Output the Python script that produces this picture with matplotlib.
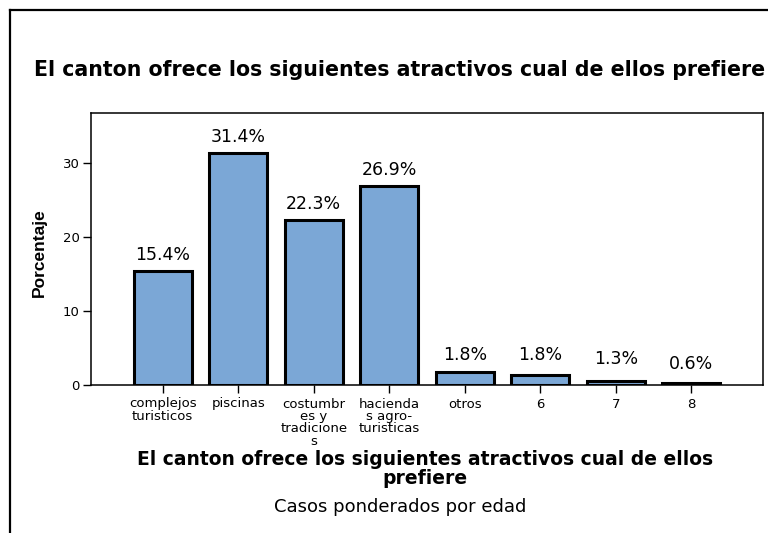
import matplotlib
matplotlib.use("Agg")
import matplotlib.pyplot as plt
from matplotlib.lines import Line2D

# ── Data ─────────────────────────────────────────────────────────────────────
categories = ["complejos\nturisticos", "piscinas", "costumbr\nes y\ntradicione\ns",
              "hacienda\ns agro-\nturisticas", "otros", "6", "7", "8"]
bar_heights = [15.4, 31.4, 22.3, 26.9, 1.8, 1.3, 0.6, 0.3]
label_values = [15.4, 31.4, 22.3, 26.9, 1.8, 1.8, 1.3, 0.6]
yticks = [0, 10, 20, 30]

TITLE = "El canton ofrece los siguientes atractivos cual de ellos prefiere"
XLABEL = "El canton ofrece los siguientes atractivos cual de ellos\nprefiere"
FOOT = "Casos ponderados por edad"

# ── Style ────────────────────────────────────────────────────────────────────
# reference text is wide (horizontally stretched Arial) -> DejaVu is closer
plt.rcParams["font.family"] = ["DejaVu Sans"]
BAR = (123/255, 167/255, 214/255)
W, H = 768, 533

fig = plt.figure(figsize=(W/100, H/100), dpi=100)
fig.patch.set_facecolor("white")

# outer frame (left + top edges, rest cut off like the reference)
fig.add_artist(Line2D([10/W, 10/W], [0, 1 - 10/H], transform=fig.transFigure,
                      color="black", linewidth=1.6))
fig.add_artist(Line2D([10/W, 1], [1 - 10/H, 1 - 10/H], transform=fig.transFigure,
                      color="black", linewidth=1.6))

ax = fig.add_axes([91/W, 1 - 385/H, 672/W, 272/H])
x = list(range(len(categories)))
ax.bar(x, bar_heights, width=0.77, color=BAR, edgecolor="black", linewidth=2.2, zorder=2)

for xi, v in zip(x, label_values):
    ax.text(xi, v + 1.0, f"{v:.1f}%", ha="center", va="bottom", fontsize=12.5)

ax.set_xlim(-0.95, len(categories) - 0.05)
ax.set_ylim(0, 36.8)
ax.set_yticks(yticks)
ax.set_xticks(x)
ax.set_xticklabels(categories, fontsize=9.5, linespacing=0.95)
ax.tick_params(axis="y", labelsize=9.5, length=6, width=1, pad=2)
ax.tick_params(axis="x", length=6, width=1, pad=3)
for s in ax.spines.values():
    s.set_linewidth(1.1)

ax.set_ylabel("Porcentaje", fontsize=12.5, fontweight="bold",
              family=["Liberation Sans", "DejaVu Sans"])
ax.yaxis.set_label_coords(-44/672, 0.485)

fig.text(34/W, 1 - 70/H, TITLE, ha="left", va="center", fontsize=14.8, fontweight="bold")
fig.text(425/W, 1 - 469/H, XLABEL, ha="center", va="center", fontsize=13.5,
         fontweight="bold", linespacing=0.95)
fig.text(400/W, 1 - 507/H, FOOT, ha="center", va="center", fontsize=13)

fig.savefig("out.png", dpi=100, facecolor="white")
